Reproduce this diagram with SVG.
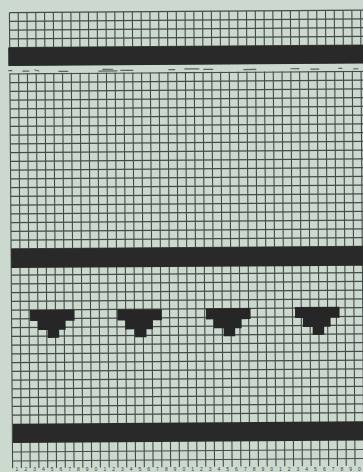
<svg xmlns="http://www.w3.org/2000/svg" width="363" height="472" viewBox="0 0 363 472">
<style>
.paper{fill:#cbd9ce}
.grid{fill:none;stroke:#474a48;stroke-width:1.1}
.bar{fill:#282928}
.smudge{fill:none;stroke:#3a3c3a;stroke-width:1.2;stroke-linecap:round;opacity:0.75}
.num{font-family:"Liberation Sans",Arial,sans-serif;font-size:5px;fill:#3a3a3a;text-anchor:middle}
</style>
<defs>
<path id="motif" d="M0 0H44.5V11H35.5V20H29V28H17.5V20H7.8V11H0Z" fill="#252625"/>
</defs>
<rect class="paper" x="0" y="0" width="363" height="472"/>
<g transform="rotate(-0.4 181 236)">
<g id="grid">
<path class="grid" d="M11 11.4v455.6m8.78-455.6v455.6m8.78-455.6v455.6m8.78-455.6v455.6m8.78-455.6v455.6m8.78-455.6v455.6m8.78-455.6v455.6m8.78-455.6v455.6m8.78-455.6v455.6m8.78-455.6v455.6m8.78-455.6v455.6m8.78-455.6v455.6m8.78-455.6v455.6m8.78-455.6v455.6m8.78-455.6v455.6m8.78-455.6v455.6m8.78-455.6v455.6m8.78-455.6v455.6m8.78-455.6v455.6m8.78-455.6v455.6m8.78-455.6v455.6m8.78-455.6v455.6m8.78-455.6v455.6m8.78-455.6v455.6m8.78-455.6v455.6m8.78-455.6v455.6m8.78-455.6v455.6m8.78-455.6v455.6m8.78-455.6v455.6m8.78-455.6v455.6m8.78-455.6v455.6m8.78-455.6v455.6m8.78-455.6v455.6m8.78-455.6v455.6m8.78-455.6v455.6m8.78-455.6v455.6m8.78-455.6v455.6m8.78-455.6v455.6m8.78-455.6v455.6m8.78-455.6v455.6m8.78-455.6v455.6"/>
<path class="grid" d="M11 11.4h359m-359 8.75h359m-359 8.75h359m-359 8.75h359m-359 8.75h359m-359 8.75h359m-359 8.75h359m-359 8.75h359m-359 8.75h359m-359 8.75h359m-359 8.75h359m-359 8.75h359m-359 8.75h359m-359 8.75h359m-359 8.75h359m-359 8.75h359m-359 8.75h359m-359 8.75h359m-359 8.75h359m-359 8.75h359m-359 8.75h359m-359 8.75h359m-359 8.75h359m-359 8.75h359m-359 8.75h359m-359 8.75h359m-359 8.75h359m-359 8.75h359m-359 8.75h359m-359 8.75h359m-359 8.75h359m-359 8.75h359m-359 8.75h359m-359 8.75h359m-359 8.75h359m-359 8.75h359m-359 8.75h359m-359 8.75h359m-359 8.75h359m-359 8.75h359m-359 8.75h359m-359 8.75h359m-359 8.75h359m-359 8.75h359m-359 8.75h359m-359 8.75h359m-359 8.75h359M11 450.8h359M11 459.8h359"/>
</g>
<rect class="paper" x="5" y="64.6" width="370" height="7.5"/>
<g id="smudges">
<path class="smudge" d="M10 69.5h3M24 70h6M36 69l4 1M60 70.5h9M100 70.5h18M104 68.8h10M122 70h12M170 69.5h6M186 69h14M205 69.6h9M245 70h12M292 69.5h8M312 70h8M340 69.5h3M355 70h4"/>
</g>
<g id="bars">
<rect class="bar" x="9.5" y="46.2" width="362" height="18.6"/>
<rect class="bar" x="11" y="247.6" width="362" height="19.3"/>
<rect class="bar" x="11.5" y="422.6" width="362" height="19.2"/>
</g>
<g id="motifs">
<use href="#motif" x="29.5" y="309"/>
<use href="#motif" x="116.8" y="309"/>
<use href="#motif" x="205.5" y="308.6"/>
<use href="#motif" x="294.5" y="307.8"/>
</g>
</g>
<g id="numbers">
<text class="num" x="17 25.8 34.6 43.3 52.1 60.9 69.7 78.4 87.2 96 104.8 113.6 122.4 131.1 139.9 148.7 157.5 166.3 175 183.8 192.6 201.4 210.2 218.9 227.7 236.5 245.3 254.1 262.8 271.6 280.4 289.2 298 306.7 315.5 324.3 333.1 341.9 350.6 359.4" y="471">1234567890123456789012345678901234567890</text>
</g>
</svg>
